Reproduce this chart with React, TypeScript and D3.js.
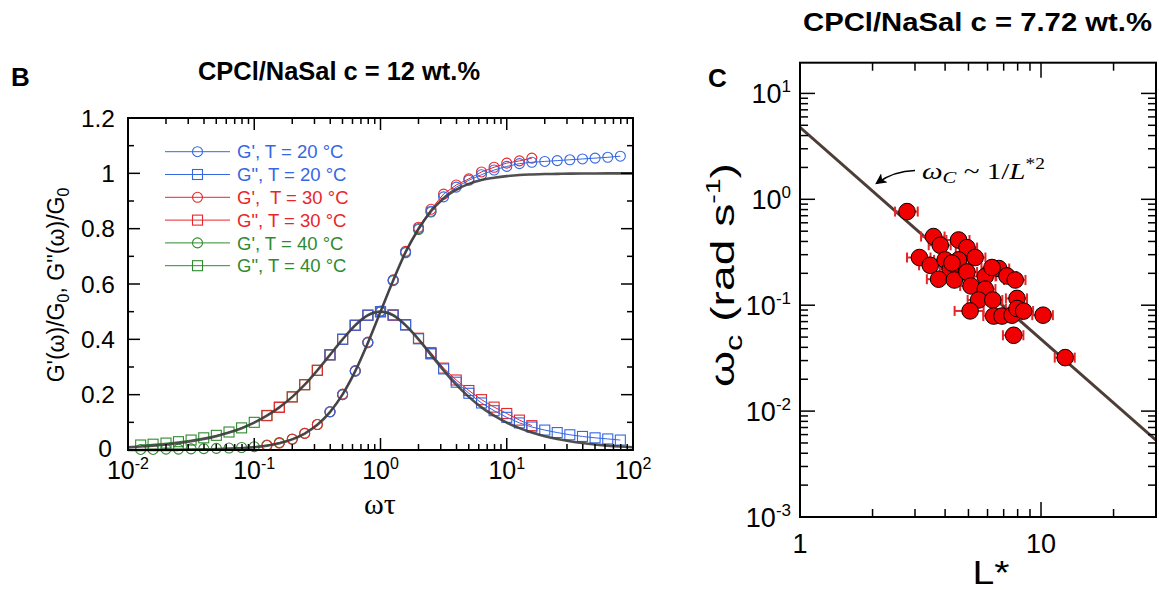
import React from "react";
import * as d3 from "d3";

const SANS = "'Liberation Sans', Arial, Helvetica, sans-serif";
const SERIF = "'Liberation Serif', 'Times New Roman', serif";

// ---------------- Panel B data ----------------
const greenX = [0.0126, 0.0158, 0.02, 0.0251, 0.0316, 0.0398, 0.0501, 0.0631, 0.0794, 0.1, 0.126, 0.158, 0.2, 0.251, 0.316, 0.398, 0.501, 0.631, 0.794, 1.0, 1.26, 1.58, 2.0, 2.51];
const greenGp = [0.002, 0.002, 0.003, 0.003, 0.004, 0.005, 0.006, 0.007, 0.009, 0.012, 0.018, 0.027, 0.04, 0.06, 0.092, 0.138, 0.2, 0.285, 0.388, 0.5, 0.612, 0.713, 0.797, 0.86];
const greenGpp = [0.018, 0.021, 0.025, 0.03, 0.036, 0.044, 0.053, 0.065, 0.08, 0.1, 0.125, 0.155, 0.192, 0.236, 0.288, 0.344, 0.4, 0.45, 0.487, 0.5, 0.488, 0.453, 0.403, 0.348];

const redX = [0.126, 0.158, 0.2, 0.251, 0.316, 0.398, 0.501, 0.631, 0.794, 1.0, 1.26, 1.58, 2.0, 2.51, 3.16, 3.98, 5.01, 6.31, 7.94, 10, 12.6, 15.8];
const redGp = [0.016, 0.025, 0.039, 0.06, 0.092, 0.138, 0.202, 0.287, 0.39, 0.502, 0.615, 0.718, 0.805, 0.87, 0.925, 0.958, 0.98, 1.005, 1.022, 1.037, 1.045, 1.055];
const redGpp = [0.124, 0.154, 0.192, 0.236, 0.288, 0.344, 0.4, 0.451, 0.487, 0.5, 0.487, 0.453, 0.404, 0.352, 0.296, 0.253, 0.215, 0.182, 0.155, 0.132, 0.108, 0.088];

const blueX = [0.398, 0.501, 0.631, 0.794, 1.0, 1.26, 1.58, 2.0, 2.51, 3.16, 3.98, 5.01, 6.31, 7.94, 10, 12.6, 15.8, 20, 25.1, 31.6, 39.8, 50.1, 63.1, 79.4];
const blueGp = [0.138, 0.2, 0.285, 0.388, 0.5, 0.613, 0.715, 0.8, 0.863, 0.915, 0.95, 0.975, 0.995, 1.012, 1.025, 1.035, 1.04, 1.043, 1.046, 1.049, 1.052, 1.055, 1.058, 1.062];
const blueGpp = [0.344, 0.4, 0.451, 0.487, 0.5, 0.488, 0.452, 0.402, 0.348, 0.293, 0.245, 0.205, 0.17, 0.142, 0.118, 0.098, 0.083, 0.072, 0.063, 0.055, 0.049, 0.044, 0.04, 0.036];

const fitX = [0.01, 0.0126, 0.0158, 0.02, 0.0251, 0.0316, 0.0398, 0.0501, 0.0631, 0.0794, 0.1, 0.126, 0.158, 0.2, 0.251, 0.316, 0.398, 0.501, 0.631, 0.794, 1.0, 1.26, 1.58, 2.0, 2.51, 3.16, 3.98, 5.01, 6.31, 7.94, 10, 12.6, 15.8, 20, 25.1, 31.6, 39.8, 50.1, 63.1, 79.4, 100];
const fitGp = [0.0001, 0.00016, 0.00025, 0.0004, 0.00063, 0.001, 0.0016, 0.0025, 0.004, 0.0063, 0.0099, 0.0156, 0.0245, 0.0385, 0.0593, 0.0909, 0.137, 0.201, 0.285, 0.387, 0.5, 0.613, 0.715, 0.799, 0.863, 0.909, 0.941, 0.962, 0.976, 0.984, 0.99, 0.994, 0.996, 0.9975, 0.998, 0.999, 0.9994, 0.9996, 0.9997, 0.9998, 0.9999];
const fitGpp = [0.01, 0.0126, 0.0158, 0.02, 0.0251, 0.0316, 0.0397, 0.05, 0.0629, 0.0789, 0.099, 0.124, 0.154, 0.192, 0.236, 0.288, 0.344, 0.4, 0.451, 0.487, 0.5, 0.487, 0.451, 0.4, 0.344, 0.288, 0.236, 0.192, 0.154, 0.124, 0.099, 0.079, 0.063, 0.05, 0.0397, 0.0316, 0.0251, 0.02, 0.0158, 0.0126, 0.01];

const legendLabels = ["G', T = 20 °C", "G\", T = 20 °C", "G',  T = 30 °C", "G\", T = 30 °C", "G', T = 40 °C", "G\", T = 40 °C"];
const yTickLabelsB = ["0", "0.2", "0.4", "0.6", "0.8", "1", "1.2"];
const yTickValuesB = [0, 0.2, 0.4, 0.6, 0.8, 1.0, 1.2];
const xDecadesB = [-2, -1, 0, 1, 2];

// ---------------- Panel C data ----------------
const lStar = [2.78, 3.58, 3.82, 4.55, 4.93, 3.13, 3.47, 4.0, 4.55, 5.33, 4.2, 3.76, 4.37, 4.93, 5.87, 6.68, 6.26, 7.22, 7.82, 5.12, 5.87, 5.51, 6.31, 7.95, 5.08, 6.36, 6.89, 7.58, 7.95, 8.47, 10.2, 7.7, 4.27, 12.6];
const omegaC = [0.766, 0.445, 0.368, 0.413, 0.35, 0.282, 0.238, 0.268, 0.268, 0.282, 0.219, 0.176, 0.173, 0.206, 0.187, 0.222, 0.227, 0.189, 0.173, 0.152, 0.142, 0.112, 0.112, 0.116, 0.0883, 0.079, 0.079, 0.0805, 0.093, 0.088, 0.0805, 0.052, 0.25, 0.032];
const lStarErr = [0.3, 0.4, 0.4, 0.5, 0.5, 0.35, 0.35, 0.4, 0.45, 0.55, 0.4, 0.4, 0.45, 0.5, 0.6, 0.7, 0.6, 0.7, 0.8, 0.5, 0.6, 0.55, 0.6, 0.8, 0.7, 0.6, 0.7, 0.75, 0.8, 0.8, 1.0, 0.75, 0.45, 1.2];
const fitLC = [1, 30];
const fitOmegaC = [4.78, 0.00531];
const yDecadesC = [-3, -2, -1, 0, 1];
const xTickLabelsC = [1, 10];

const BLUE = "#3567e3";
const RED = "#e8262a";
const GREEN = "#2f8a2f";

function Pow({ x, y, base, exp, anchor, size, supSize }: any) {
  return (
    <text x={x} y={y} textAnchor={anchor} fontSize={size} fontFamily={SANS}>
      {base}
      <tspan dy={-size * 0.42} fontSize={supSize}>{exp}</tspan>
    </text>
  );
}

function Marker({ kind, cx, cy, color }: any) {
  if (kind === "circle") return <circle cx={cx} cy={cy} r={5} fill="none" stroke={color} strokeWidth={1.1} />;
  return <rect x={cx - 5} y={cy - 5} width={10} height={10} fill="none" stroke={color} strokeWidth={1.1} />;
}

function PanelB() {
  const x = d3.scaleLog().domain([0.01, 100]).range([128, 633]);
  const y = d3.scaleLinear().domain([0, 1.2]).range([450, 118]);
  const [x0, x1] = x.range();
  const [y0, y1] = y.range();

  const series = [
    { xs: greenX, ys: greenGpp, kind: "square", color: GREEN },
    { xs: greenX, ys: greenGp, kind: "circle", color: GREEN },
    { xs: redX, ys: redGpp, kind: "square", color: RED },
    { xs: redX, ys: redGp, kind: "circle", color: RED },
    { xs: blueX, ys: blueGpp, kind: "square", color: BLUE },
    { xs: blueX, ys: blueGp, kind: "circle", color: BLUE },
  ];
  const mk = (xs: number[], ys: number[], curve?: any) => {
    const l = d3.line<[number, number]>().x((d) => x(d[0])).y((d) => y(d[1]));
    if (curve) l.curve(curve);
    return l(xs.map((v, i) => [v, ys[i]] as [number, number])) || "";
  };

  const minorX: number[] = [];
  xDecadesB.slice(0, -1).forEach((e) => {
    for (let k = 2; k <= 9; k++) minorX.push(k * Math.pow(10, e));
  });
  const minorY = [0.1, 0.3, 0.5, 0.7, 0.9, 1.1];

  const legendColors = [BLUE, BLUE, RED, RED, GREEN, GREEN];
  const legendKinds = ["circle", "square", "circle", "square", "circle", "square"];
  const legendY = d3.range(6).map((i) => 151.7 + i * 22.8);

  return (
    <g fontFamily={SANS}>
      <text x={11} y={86} fontWeight="bold" fontSize={26}>B</text>
      <text x={339} y={80} textAnchor="middle" fontWeight="bold" fontSize={25} textLength={282} lengthAdjust="spacingAndGlyphs">CPCl/NaSal c = 12 wt.%</text>

      {series.map((s, i) => (
        <g key={i}>
          <path d={mk(s.xs, s.ys)} fill="none" stroke={s.color} strokeWidth={1} />
          {s.xs.map((v, j) => (
            <Marker key={j} kind={s.kind} cx={x(v)} cy={y(s.ys[j])} color={s.color} />
          ))}
        </g>
      ))}
      <path d={mk(fitX, fitGp, d3.curveMonotoneX)} fill="none" stroke="#3d3d3d" strokeWidth={2.6} strokeOpacity={0.9} />
      <path d={mk(fitX, fitGpp, d3.curveMonotoneX)} fill="none" stroke="#3d3d3d" strokeWidth={2.6} strokeOpacity={0.9} />

      {legendLabels.map((t, i) => (
        <g key={i}>
          <line x1={165} x2={230} y1={legendY[i]} y2={legendY[i]} stroke={legendColors[i]} strokeWidth={1} />
          <Marker kind={legendKinds[i]} cx={197.5} cy={legendY[i]} color={legendColors[i]} />
          <text x={237} y={legendY[i] + 6.6} fontSize={18.5} fill={legendColors[i]} style={{ whiteSpace: "pre" }}>{t}</text>
        </g>
      ))}

      {xDecadesB.map((e) => {
        const px = x(Math.pow(10, e));
        return (
          <g key={"xm" + e}>
            <line x1={px} x2={px} y1={y0} y2={y0 - 12} stroke="#000" strokeWidth={1.5} />
            <line x1={px} x2={px} y1={y1} y2={y1 + 12} stroke="#000" strokeWidth={1.5} />
            <Pow x={px} y={479} base="10" exp={String(e)} anchor="middle" size={25} supSize={16} />
          </g>
        );
      })}
      {minorX.map((v, i) => (
        <g key={"xn" + i}>
          <line x1={x(v)} x2={x(v)} y1={y0} y2={y0 - 6} stroke="#000" strokeWidth={1.5} />
          <line x1={x(v)} x2={x(v)} y1={y1} y2={y1 + 6} stroke="#000" strokeWidth={1.5} />
        </g>
      ))}
      {yTickValuesB.map((v, i) => (
        <g key={"ym" + i}>
          <line x1={x0} x2={x0 + 12} y1={y(v)} y2={y(v)} stroke="#000" strokeWidth={1.5} />
          <line x1={x1} x2={x1 - 12} y1={y(v)} y2={y(v)} stroke="#000" strokeWidth={1.5} />
          <text x={v === 0 ? 112 : 115} y={y(v) + (v === 0 ? 6.5 : 8.5)} textAnchor="end" fontSize={24.5}>{yTickLabelsB[i]}</text>
        </g>
      ))}
      {minorY.map((v, i) => (
        <g key={"yn" + i}>
          <line x1={x0} x2={x0 + 6} y1={y(v)} y2={y(v)} stroke="#000" strokeWidth={1.5} />
          <line x1={x1} x2={x1 - 6} y1={y(v)} y2={y(v)} stroke="#000" strokeWidth={1.5} />
        </g>
      ))}
      <rect x={x0} y={y1} width={x1 - x0} height={y0 - y1} fill="none" stroke="#000" strokeWidth={2} />

      <text x={380} y={514} textAnchor="middle" fontSize={30} fontFamily={SERIF}>ωτ</text>
      <text transform="translate(64,285) rotate(-90)" textAnchor="middle" fontSize={23}>
        G'(ω)/G<tspan dy={5} fontSize={16}>0</tspan><tspan dy={-5}>, G''(ω)/G</tspan><tspan dy={5} fontSize={16}>0</tspan>
      </text>
    </g>
  );
}

function PanelC() {
  const x = d3.scaleLog().domain([1, 30]).range([800, 1156]);
  const y = d3.scaleLog().domain([1e-3, Math.pow(10, 1.29)]).range([517, 62.7]);
  const [x0, x1] = x.range();
  const [y0, y1] = y.range();

  const minorX = [2, 3, 4, 5, 6, 7, 8, 9, 20];
  const minorY: number[] = [];
  yDecadesC.forEach((e) => {
    for (let k = 2; k <= 9; k++) {
      const v = k * Math.pow(10, e);
      if (v < y.domain()[1]) minorY.push(v);
    }
  });
  const fitPath = d3.line<number>().x((v) => x(v)).y((_, i) => y(fitOmegaC[i]))(fitLC) || "";

  return (
    <g fontFamily={SANS}>
      <defs>
        <clipPath id="clipC">
          <rect x={x0} y={y1} width={x1 - x0} height={y0 - y1} />
        </clipPath>
        <marker id="arrowC" viewBox="0 0 10 10" refX="8" refY="5" markerWidth="7" markerHeight="7" orient="auto-start-reverse">
          <path d="M0,0 L10,5 L0,10 L2.5,5 z" fill="#000" />
        </marker>
      </defs>
      <text x={977.5} y={31} textAnchor="middle" fontWeight="bold" fontSize={25} textLength={349} lengthAdjust="spacingAndGlyphs">CPCl/NaSal c = 7.72 wt.%</text>
      <text x={708} y={87} fontWeight="bold" fontSize={26}>C</text>

      <g clipPath="url(#clipC)">
        <path d={fitPath} fill="none" stroke="#4e3d37" strokeWidth={3} />
      </g>

      {lStar.map((L, i) => {
        const cy = y(omegaC[i]);
        const xa = x(L - lStarErr[i]), xb = x(L + lStarErr[i]);
        return (
          <g key={"e" + i}>
            <line x1={xa} x2={xb} y1={cy} y2={cy} stroke={RED} strokeWidth={2} />
            <line x1={xa} x2={xa} y1={cy - 5} y2={cy + 5} stroke={RED} strokeWidth={2} />
            <line x1={xb} x2={xb} y1={cy - 5} y2={cy + 5} stroke={RED} strokeWidth={2} />
          </g>
        );
      })}
      {lStar.map((L, i) => (
        <circle key={"p" + i} cx={x(L)} cy={y(omegaC[i])} r={8.3} fill="#f00000" stroke="#000" strokeWidth={1} />
      ))}

      <path d="M 915 170.5 Q 894 171 877 183" fill="none" stroke="#000" strokeWidth={1.6} markerEnd="url(#arrowC)" />
      <text x={922} y={179} fontSize={24} fontFamily={SERIF} textLength={123} lengthAdjust="spacingAndGlyphs">
        <tspan fontStyle="italic">ω</tspan><tspan fontStyle="italic" fontSize={17} dy={4}>C</tspan><tspan dy={-4}> ~ 1/</tspan><tspan fontStyle="italic">L</tspan><tspan dy={-10} fontSize={16}>*2</tspan>
      </text>

      {xTickLabelsC.map((v) => (
        <g key={"xm" + v}>
          <line x1={x(v)} x2={x(v)} y1={y0} y2={y0 - 15} stroke="#000" strokeWidth={1.5} />
          <line x1={x(v)} x2={x(v)} y1={y1} y2={y1 + 15} stroke="#000" strokeWidth={1.5} />
          <text x={x(v)} y={553} textAnchor="middle" fontSize={27}>{v}</text>
        </g>
      ))}
      {minorX.map((v) => (
        <g key={"xn" + v}>
          <line x1={x(v)} x2={x(v)} y1={y0} y2={y0 - 8} stroke="#000" strokeWidth={1.5} />
          <line x1={x(v)} x2={x(v)} y1={y1} y2={y1 + 8} stroke="#000" strokeWidth={1.5} />
        </g>
      ))}
      {yDecadesC.map((e) => {
        const py = y(Math.pow(10, e));
        return (
          <g key={"ym" + e}>
            <line x1={x0} x2={x0 + 15} y1={py} y2={py} stroke="#000" strokeWidth={1.5} />
            <line x1={x1} x2={x1 - 15} y1={py} y2={py} stroke="#000" strokeWidth={1.5} />
            <Pow x={791} y={py + 10} base="10" exp={String(e)} anchor="end" size={27} supSize={17} />
          </g>
        );
      })}
      {minorY.map((v, i) => (
        <g key={"yn" + i}>
          <line x1={x0} x2={x0 + 8} y1={y(v)} y2={y(v)} stroke="#000" strokeWidth={1.5} />
          <line x1={x1} x2={x1 - 8} y1={y(v)} y2={y(v)} stroke="#000" strokeWidth={1.5} />
        </g>
      ))}
      <rect x={x0} y={y1} width={x1 - x0} height={y0 - y1} fill="none" stroke="#000" strokeWidth={2} />

      <text x={991} y={584} textAnchor="middle" fontSize={33} textLength={37} lengthAdjust="spacingAndGlyphs">L*</text>
      <text transform="translate(734,275) rotate(-90)" textAnchor="middle" fontSize={34} textLength={224} lengthAdjust="spacingAndGlyphs">
        ω<tspan dy={8} fontSize={24}>c</tspan><tspan dy={-8}> (rad s</tspan><tspan dy={-14} fontSize={21}>-1</tspan><tspan dy={14}>)</tspan>
      </text>
    </g>
  );
}

export default function App() {
  return (
    <svg width={1159} height={590} viewBox="0 0 1159 590" style={{ position: "absolute", left: 0, top: 0, background: "#fff" }}>
      <rect width={1159} height={590} fill="#fff" />
      <PanelB />
      <PanelC />
    </svg>
  );
}
